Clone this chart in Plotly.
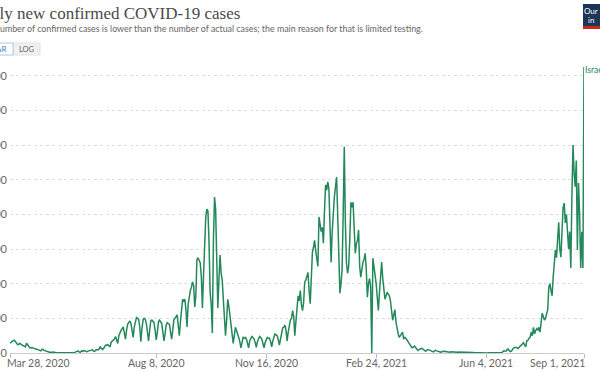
import plotly.graph_objects as go
import pandas as pd

# ---------------- data (daily new confirmed cases, Israel) ----------------
START_DATE = "2020-03-28"
country = "Israel"

mar_2020 = [560, 620, 680, 720]
apr_2020 = [735, 650, 520, 480, 500, 560, 500, 450, 420, 380, 350, 560, 480, 350, 300,
            290, 320, 280, 250, 250, 220, 200, 180, 150, 120, 200, 210, 150, 120, 110]
may_2020 = [80, 50, 40, 50, 30, 40, 60, 20, 10, 20, 20, 15, 30, 25, 20, 10, 20, 15, 30, 20,
            20, 10, 15, 30, 20, 30, 80, 80, 110, 60, 50]
jun_2020 = [120, 90, 140, 110, 90, 70, 110, 130, 160, 170, 180, 110, 90, 170, 200, 180, 220,
            350, 230, 200, 250, 400, 460, 450, 480, 420, 350, 620, 700, 750]
jul_2020 = [800, 950, 700, 550, 1000, 1200, 1300, 1400, 1500, 1150, 800, 1300, 1650, 1750,
            1850, 1700, 1300, 900, 1500, 1900, 2050, 2000, 1950, 1500, 650, 1400, 1900, 2000,
            1950, 1700, 1100]
aug_2020 = [700, 1300, 1850, 1900, 1800, 1750, 1300, 750, 1200, 1800, 1900, 1750, 1700, 1200,
            700, 1100, 1600, 1750, 1700, 1650, 1200, 800, 1300, 1900, 2000, 2100, 2200, 1600,
            1000, 1800, 2600]
sep_2020 = [3100, 3000, 3100, 2500, 1500, 2800, 3300, 3600, 3800, 4100, 3900, 2650, 3300, 5400,
            5500, 5300, 5200, 4400, 2600, 4500, 7000, 7800, 8300, 8200, 6400, 3500, 2800, 1150,
            6500, 9000]
oct_2020 = [8300, 6100, 2600, 4200, 5650, 4600, 4200, 3100, 2200, 1000, 1900, 3100, 2700, 2100,
            1900, 1100, 560, 1000, 1480, 1300, 1000, 900, 650, 300, 600, 900, 850, 900, 800,
            550, 300]
nov_2020 = [700, 850, 950, 900, 800, 600, 330, 650, 850, 950, 900, 800, 550, 300, 600, 800, 900,
            850, 850, 650, 350, 700, 950, 1100, 1050, 1000, 750, 450, 800, 1200]
dec_2020 = [1450, 1500, 1600, 1300, 700, 1200, 1700, 1900, 2000, 2450, 2100, 1000, 1800, 2600,
            3300, 3000, 3600, 2800, 2450, 2900, 4100, 4200, 4400, 4650, 3600, 2850, 4300, 5800,
            6100, 6500, 5900]
jan_2021 = [5400, 5000, 7850, 7400, 7000, 7250, 6330, 8200, 9700, 9400, 9870, 9500, 7000, 5230,
            7000, 8360, 9000, 9600, 10150, 8000, 5500, 3450, 4000, 4800, 8000, 11900, 7500,
            5200, 4600, 5000, 6500]
feb_2021 = [8700, 8400, 8700, 7200, 5750, 6300, 6500, 7100, 5000, 4380, 5000, 5250, 5400, 5750,
            4800, 3220, 4000, 4300, 3800, 0, 5470, 5000, 4780, 4000, 3200, 2460, 3500, 4600]
mar_2021 = [5250, 4300, 3800, 3100, 3300, 3500, 3400, 3300, 3000, 2500, 1890, 2200, 2500, 1800,
            1310, 1100, 900, 1000, 1100, 1200, 800, 900, 850, 730, 600, 500, 450, 350, 300,
            350, 400]
apr_2021 = [300, 250, 150, 200, 250, 270, 250, 200, 180, 100, 150, 200, 180, 150, 130, 100, 60,
            120, 150, 120, 110, 100, 80, 40, 90, 110, 100, 90, 80, 60]
may_2021 = [30, 50, 70, 60, 70, 60, 50, 30, 40, 60, 50, 45, 40, 35, 20, 40, 50, 40, 35, 30, 25,
            15, 30, 25, 20, 15, 20, 10, 10, 20, 15]
jun_2021 = [10, 15, 20, 10, 5, 10, 15, 10, 10, 12, 8, 5, 10, 15, 20, 15, 10, 15, 60, 125, 110,
            100, 200, 230, 130, 80, 110, 250, 300, 320]
jul_2021 = [300, 320, 250, 350, 400, 450, 500, 600, 450, 350, 700, 730, 850, 900, 1200, 1000,
            1480, 1100, 1300, 1400, 1300, 1480, 1200, 1700, 2300, 2100, 1900, 2000, 2200, 2500,
            3800]
aug_2021 = [4000, 3600, 3300, 4400, 5000, 5950, 5500, 6700, 7540, 6000, 5530, 7000, 8400, 8650,
            7500, 8000, 7000, 6000, 7000, 4900, 9000, 12000, 10400, 9600, 11100, 5950, 9800,
            8000, 4900, 7000, 4900]
sep_2021 = [16500]

x_tick_dates = ["2020-03-28", "2020-08-08", "2020-11-16", "2021-02-24", "2021-06-04", "2021-09-01"]
x_tick_labels = ["Mar 28, 2020", "Aug 8, 2020", "Nov 16, 2020", "Feb 24, 2021", "Jun 4, 2021", "Sep 1, 2021"]
y_tick_vals = [0, 2000, 4000, 6000, 8000, 10000, 12000, 14000, 16000]
y_tick_labels = ["0", "2,000", "4,000", "6,000", "8,000", "10,000", "12,000", "14,000", "16,000"]

title_text = "Daily new confirmed COVID-19 cases"
subtitle_text = ("The number of confirmed cases is lower than the number of actual cases; "
                 "the main reason for that is limited testing.")

cases = (mar_2020 + apr_2020 + may_2020 + jun_2020 + jul_2020 + aug_2020 + sep_2020 + oct_2020
         + nov_2020 + dec_2020 + jan_2021 + feb_2021 + mar_2021 + apr_2021 + may_2021 + jun_2021
         + jul_2021 + aug_2021 + sep_2021)
dates = pd.date_range(START_DATE, periods=len(cases), freq="D")

# ---------------- layout ----------------
W, H = 600, 372
L, R, T, B = 10, 16, 67, 19
PW, PH = W - L - R, H - T - B
GREEN = "#23895a"
GREY = "#666666"


def px(x):
    return (x - L) / PW


def py(y):
    return 1 - (y - T) / PH


fig = go.Figure()
fig.add_trace(go.Scatter(x=dates, y=cases, mode="lines", name=country,
                         line=dict(color=GREEN, width=1.5), hoverinfo="skip"))

annotations = []
# x-axis labels (first left aligned, last right aligned like the source)
n_ticks = len(x_tick_dates)
for i, (d, lab) in enumerate(zip(x_tick_dates, x_tick_labels)):
    if i == 0:
        anchor, shift = "left", -4
    elif i == n_ticks - 1:
        anchor, shift = "right", 2
    else:
        anchor, shift = "center", 0
    annotations.append(dict(x=d, y=0, xref="x", yref="paper", text=lab, showarrow=False,
                            xanchor=anchor, yanchor="top", yshift=-3, xshift=shift, borderpad=0,
                            font=dict(family="Lato", size=10.5, color=GREY)))
# series label
annotations.append(dict(x=dates[-1], y=cases[-1], xref="x", yref="y", text=country,
                        showarrow=False, xanchor="left", yanchor="middle", xshift=0, yshift=-3,
                        borderpad=0, font=dict(family="Lato", size=8.5, color=GREEN)))
# title / subtitle (cropped at the left edge as in the source)
annotations.append(dict(x=px(-26), y=py(14), xref="paper", yref="paper", text=title_text,
                        showarrow=False, xanchor="left", yanchor="middle", borderpad=0,
                        font=dict(family="Liberation Serif", size=17, color="#4a4a4a")))
annotations.append(dict(x=px(-23), y=py(29), xref="paper", yref="paper", text=subtitle_text,
                        showarrow=False, xanchor="left", yanchor="middle", borderpad=0,
                        font=dict(family="Lato", size=8.85, color="#666666")))
# LINEAR / LOG toggle
annotations.append(dict(x=px(8), y=py(49), xref="paper", yref="paper", text="LINEAR",
                        showarrow=False, xanchor="right", yanchor="middle", borderpad=0,
                        font=dict(family="Lato", size=8, color="#3b7fc4")))
annotations.append(dict(x=px(27), y=py(49), xref="paper", yref="paper", text="LOG",
                        showarrow=False, xanchor="center", yanchor="middle", borderpad=0,
                        font=dict(family="Lato", size=7.5, color="#666666")))
# logo text
annotations.append(dict(x=px(591), y=py(11), xref="paper", yref="paper", text="Our",
                        showarrow=False, xanchor="center", yanchor="middle", borderpad=0,
                        font=dict(family="Lato", size=8, color="white")))
annotations.append(dict(x=px(591), y=py(20), xref="paper", yref="paper", text="in",
                        showarrow=False, xanchor="center", yanchor="middle", borderpad=0,
                        font=dict(family="Lato", size=8, color="white")))

shapes = [
    # LOG button background
    dict(type="rect", xref="paper", yref="paper", x0=px(13), x1=px(40), y0=py(55), y1=py(43),
         fillcolor="#f0f0f0", line=dict(color="#e2e2e2", width=1), layer="below"),
    # LINEAR button (active)
    dict(type="rect", xref="paper", yref="paper", x0=px(-40), x1=px(13), y0=py(55), y1=py(43),
         fillcolor="white", line=dict(color="#a9c8e8", width=1), layer="below"),
    # logo
    dict(type="rect", xref="paper", yref="paper", x0=px(583), x1=px(610), y0=py(26), y1=py(4),
         fillcolor="#1d3557", line=dict(width=0), layer="below"),
    dict(type="rect", xref="paper", yref="paper", x0=px(583), x1=px(610), y0=py(29), y1=py(26),
         fillcolor="#ce261e", line=dict(width=0), layer="below"),
]

fig.update_layout(
    width=W, height=H,
    margin=dict(l=L, r=R, t=T, b=B, pad=0),
    paper_bgcolor="white", plot_bgcolor="white",
    showlegend=False,
    annotations=annotations,
    shapes=shapes,
    font=dict(family="Lato", color=GREY),
)
fig.update_xaxes(
    type="date", range=[dates[0], dates[-1]],
    tickvals=x_tick_dates, showticklabels=False,
    ticks="outside", ticklen=4, tickcolor="#bbbbbb", tickwidth=1,
    showline=True, linecolor="#cccccc", linewidth=1,
    showgrid=False, zeroline=False, automargin=False,
)
fig.update_yaxes(
    range=[0, max(cases)],
    tickvals=y_tick_vals, ticktext=y_tick_labels,
    tickfont=dict(family="Lato", size=11, color=GREY), ticklabelstandoff=2,
    showgrid=True, gridcolor="#dddddd", griddash="dot", gridwidth=1,
    zeroline=False, ticks="", showline=False, automargin=False,
)

fig.write_html("out.html", config={"displayModeBar": False},
               post_script="document.body.style.margin='0';")
